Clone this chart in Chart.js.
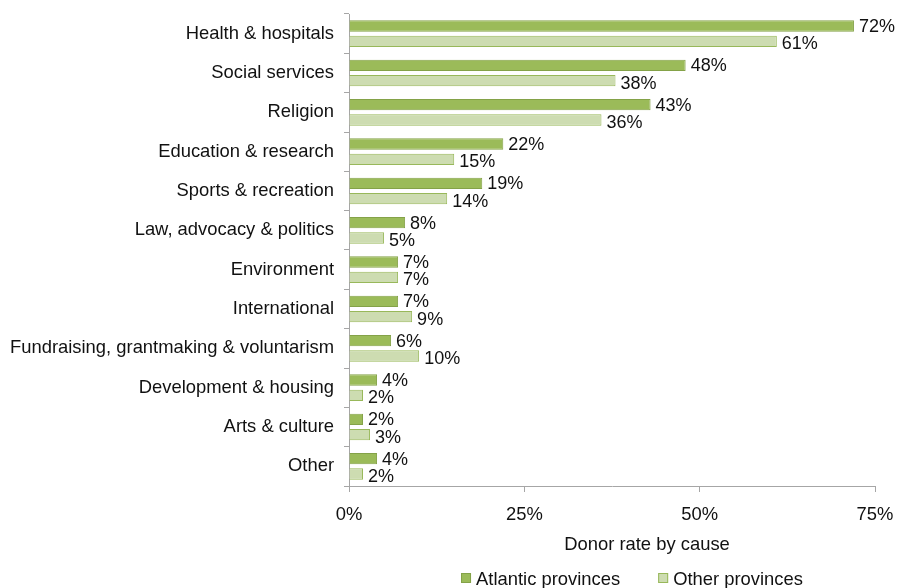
<!DOCTYPE html>
<html>
<head>
<meta charset="utf-8">
<script src="https://cdn.jsdelivr.net/npm/chart.js@4"></script>
<style>
  html, body { margin: 0; padding: 0; background: #fff; }
  #wrap { width: 898px; height: 588px; position: relative; }
</style>
</head>
<body>
<div id="wrap"><canvas id="c" width="898" height="588"></canvas></div>
<script>
// Donor rate by cause, Atlantic vs other provinces
const causes = [
  'Health & hospitals', 'Social services', 'Religion', 'Education & research',
  'Sports & recreation', 'Law, advocacy & politics', 'Environment', 'International',
  'Fundraising, grantmaking & voluntarism', 'Development & housing', 'Arts & culture', 'Other'
];
const atlantic = [72, 48, 43, 22, 19, 8, 7, 7, 6, 4, 2, 4];
const otherProv = [61, 38, 36, 15, 14, 5, 7, 9, 10, 2, 3, 2];
const seriesNames = ['Atlantic provinces', 'Other provinces'];
const axisTitle = 'Donor rate by cause';
const xTicks = [0, 25, 50, 75];

const FONT = '"Liberation Sans", Arial, sans-serif';
const TEXT = '#111';
const AXIS_GREY = '#a6a6a6';

// value labels to the right of every bar
const valueLabels = {
  id: 'valueLabels',
  afterDatasetsDraw(chart) {
    const ctx = chart.ctx;
    ctx.save();
    ctx.font = '18px ' + FONT;
    ctx.fillStyle = TEXT;
    ctx.textAlign = 'left';
    ctx.textBaseline = 'middle';
    chart.data.datasets.forEach((ds, di) => {
      const meta = chart.getDatasetMeta(di);
      meta.data.forEach((bar, i) => {
        ctx.fillText(ds.data[i] + '%', bar.x + 5, bar.y + (di === 0 ? 1 : 3));
      });
    });
    ctx.restore();
  }
};

// axis title and legend below the plot
const footer = {
  id: 'footer',
  afterDraw(chart) {
    const ctx = chart.ctx;
    ctx.save();
    ctx.font = '18.4px ' + FONT;
    ctx.fillStyle = TEXT;
    ctx.textBaseline = 'middle';
    ctx.textAlign = 'center';
    ctx.fillText(axisTitle, 647, 545);

    ctx.textAlign = 'left';
    const items = chart.data.datasets.map(ds => ({
      text: ds.label, fill: ds.backgroundColor, stroke: ds.borderColor
    }));
    const box = 10, gapBox = 5, gapItem = 38;
    const widths = items.map(it => box + gapBox + ctx.measureText(it.text).width);
    const total = widths.reduce((a, b) => a + b, 0) + gapItem * (items.length - 1);
    let x = 632 - total / 2;
    const y = 578;
    items.forEach((it, i) => {
      ctx.fillStyle = it.fill;
      ctx.fillRect(x, y - box / 2, box, box);
      ctx.strokeStyle = it.stroke;
      ctx.lineWidth = 1;
      ctx.strokeRect(x + 0.5, y - box / 2 + 0.5, box - 1, box - 1);
      ctx.fillStyle = TEXT;
      ctx.fillText(it.text, x + box + gapBox, y + 2);
      x += widths[i] + gapItem;
    });
    ctx.restore();
  }
};

new Chart(document.getElementById('c'), {
  type: 'bar',
  data: {
    labels: causes,
    datasets: [
      {
        label: seriesNames[0],
        data: atlantic,
        backgroundColor: '#9bbb59',
        borderColor: '#84a248',
        borderWidth: 1
      },
      {
        label: seriesNames[1],
        data: otherProv,
        backgroundColor: '#cddcb1',
        borderColor: '#98b85a',
        borderWidth: 1
      }
    ]
  },
  options: {
    indexAxis: 'y',
    responsive: false,
    animation: false,
    devicePixelRatio: 1,
    categoryPercentage: 0.78,
    barPercentage: 0.74,
    layout: { padding: { top: 14, right: 23, left: 0, bottom: 0 } },
    plugins: {
      legend: { display: false },
      tooltip: { enabled: false }
    },
    scales: {
      x: {
        min: 0,
        max: 75,
        afterBuildTicks(scale) { scale.ticks = xTicks.map(v => ({ value: v })); },
        afterFit(scale) {
          scale.height = 102;
          scale.paddingLeft = 0;
          scale.paddingRight = 0;
        },
        border: { display: true, color: AXIS_GREY, width: 1 },
        grid: { drawOnChartArea: false, drawTicks: true, tickLength: 6, color: AXIS_GREY },
        ticks: {
          padding: 12,
          color: TEXT,
          font: { family: FONT, size: 18.4 },
          callback: v => v + '%'
        }
      },
      y: {
        afterFit(scale) {
          scale.width = 349;
          scale.paddingTop = 0;
          scale.paddingBottom = 0;
        },
        border: { display: true, color: AXIS_GREY, width: 1 },
        grid: { drawOnChartArea: false, drawTicks: true, tickLength: 5, color: AXIS_GREY, offset: true },
        ticks: {
          padding: 10,
          color: TEXT,
          font: { family: FONT, size: 18.4 },
          autoSkip: false
        }
      }
    }
  },
  plugins: [valueLabels, footer]
});
</script>
</body>
</html>
